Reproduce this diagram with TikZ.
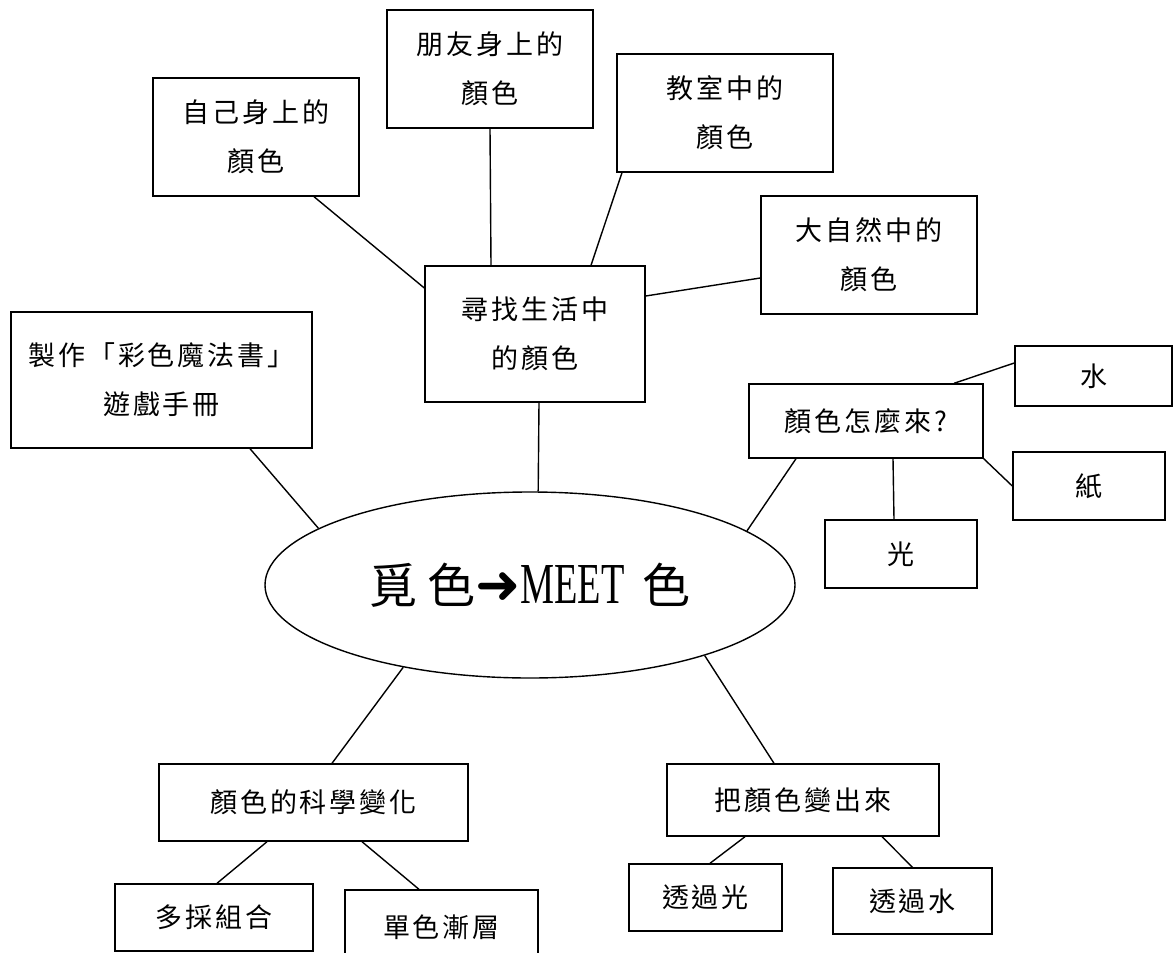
\documentclass[tikz,border=0pt]{standalone}
\usepackage{fontspec}
\usepackage{graphicx}
\usetikzlibrary{shapes.geometric,calc}
\newfontfamily\cjk[LetterSpace=11]{Noto Sans CJK TC}
\newfontfamily\cjkbig[LetterSpace=20]{Noto Sans CJK TC}
\newfontfamily\cjkplain{Noto Sans CJK TC}
\newfontfamily\arrowfont{DejaVu Sans}
\newfontfamily\meetfont{Liberation Serif}
\begin{document}
\begin{tikzpicture}[x=1pt,y=-1pt,
  box/.style={draw, line width=1.4pt, inner sep=0pt, align=center,
    font=\cjk\fontsize{27}{49}\selectfont},
  link/.style={line width=1.4pt}]
\useasboundingbox (0,0) rectangle (1173,953);
\clip (0,0) rectangle (1173,953);

\node[box, minimum width=206, minimum height=118] (self) at (256,137) {自己身上的\\顏色};
\node[box, minimum width=206, minimum height=118] (friend) at (490,69) {朋友身上的\\顏色};
\node[box, minimum width=216, minimum height=118] (class) at (725,113) {教室中的\\顏色};
\node[box, minimum width=216, minimum height=118] (nature) at (869,255) {大自然中的\\顏色};
\node[box, minimum width=220, minimum height=136] (find) at (535,334) {尋找生活中\\的顏色};
\node[box, minimum width=301, minimum height=136] (make) at (161.5,380) {製作「彩色魔法書」\\遊戲手冊};
\node[box, minimum width=157, minimum height=60] (water) at (1093.5,376) {水};
\node[box, minimum width=234, minimum height=74] (how) at (866,421) {顏色怎麼來?};
\node[box, minimum width=152, minimum height=68] (paper) at (1089,486) {紙};
\node[box, minimum width=152, minimum height=68] (light) at (901,554) {光};
\node[draw, ellipse, line width=1.4pt, minimum width=530, minimum height=186, inner sep=0pt] (core) at (530,585)
  {{\cjkbig\fontsize{48}{50}\selectfont 覓色}{\arrowfont\fontsize{54}{50}\selectfont ➜}{\meetfont\fontsize{58}{60}\selectfont\scalebox{0.66}[1]{MEET}}\hspace{18pt}{\cjkplain\fontsize{48}{50}\selectfont 色}};
\node[box, minimum width=309, minimum height=77] (sci) at (313.5,802.5) {顏色的科學變化};
\node[box, minimum width=272, minimum height=72] (mk) at (803,800) {把顏色變出來};
\node[box, minimum width=198, minimum height=67] (multi) at (214,917.5) {多採組合};
\node[box, minimum width=193, minimum height=75] (single) at (441.5,927.5) {單色漸層};
\node[box, minimum width=153, minimum height=67] (tlight) at (705.5,897.5) {透過光};
\node[box, minimum width=159, minimum height=66] (twater) at (912.5,901) {透過水};

\draw[link] ($(self.south)+(58,0)$) -- ($(find.west)+(0,-46)$);
\draw[link] (friend.south) -- ($(find.north)+(-44,0)$);
\draw[link] ($(class.south)+(-103,0)$) -- ($(find.north)+(56,0)$);
\draw[link] ($(find.east)+(0,-38)$) -- ($(nature.west)+(0,23)$);
\draw[link] ($(find.south)+(4,0)$) -- (core.85);
\draw[link] ($(make.south)+(88.5,0)$) -- (core.165);
\draw[link] ($(how.south)+(-70,0)$) -- (core.14);
\draw[link] ($(water.west)+(0,-13)$) -- ($(how.north)+(88,0)$);
\draw[link] (how.south east) -- (paper.west);
\draw[link] ($(how.south)+(27,0)$) -- ($(light.north)+(-7,0)$);
\draw[link] (core.213) -- ($(sci.north)+(18.5,0)$);
\draw[link] (core.-22.5) -- ($(mk.north)+(-29,0)$);
\draw[link] ($(sci.south)+(-46.5,0)$) -- ($(multi.north)+(3,0)$);
\draw[link] ($(sci.south)+(48.5,0)$) -- ($(single.north)+(-22.5,0)$);
\draw[link] ($(mk.south)+(-58,0)$) -- ($(tlight.north)+(4.5,0)$);
\draw[link] ($(mk.south)+(79,0)$) -- (twater.north);
\end{tikzpicture}
\end{document}
